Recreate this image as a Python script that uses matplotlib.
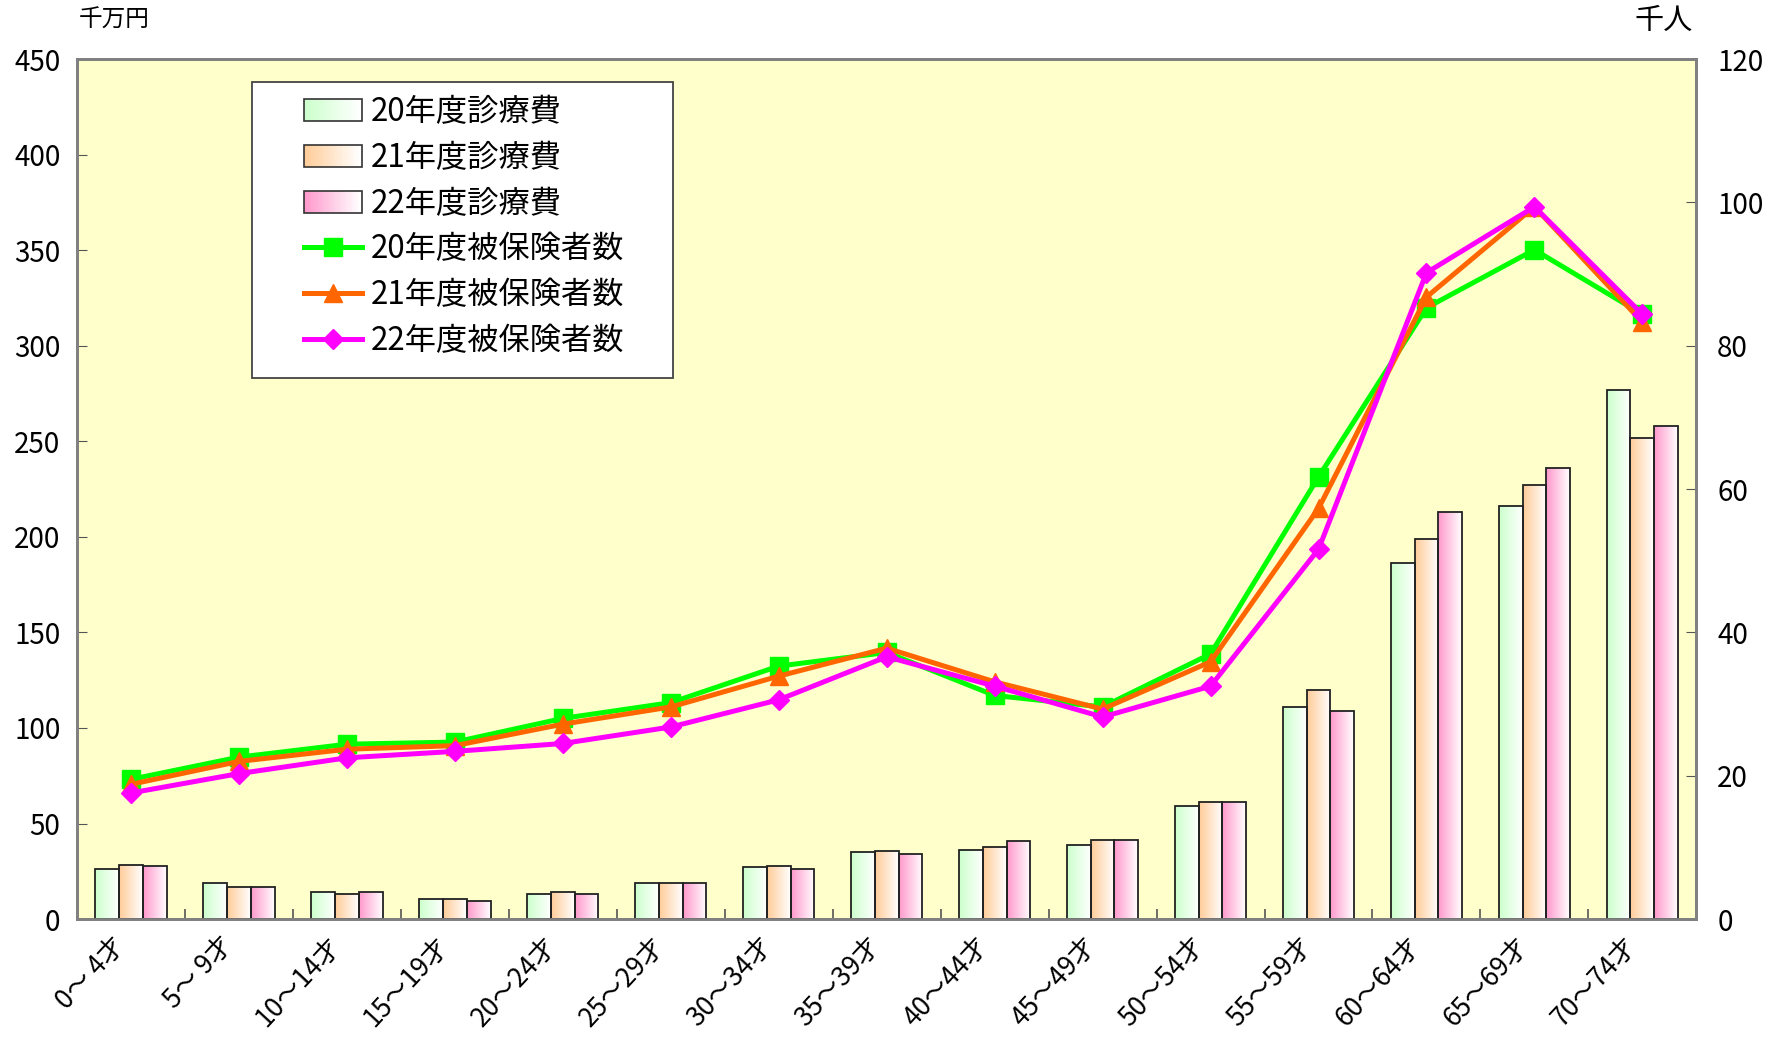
import numpy as np
import matplotlib
matplotlib.use("Agg")
import matplotlib.pyplot as plt
import matplotlib.transforms as mtransforms
from matplotlib.colors import LinearSegmentedColormap
from matplotlib.legend_handler import HandlerBase
from matplotlib.patches import Rectangle

plt.rcParams["font.family"] = ["Noto Sans CJK JP", "DejaVu Sans"]

age_groups = ["0～ 4才", "5～ 9才", "10～14才", "15～19才", "20～24才", "25～29才",
              "30～34才", "35～39才", "40～44才", "45～49才", "50～54才", "55～59才",
              "60～64才", "65～69才", "70～74才"]

# 診療費 (千万円)
cost_h20 = [26, 19, 14, 10.7, 13, 19, 27, 35, 36, 39, 59, 111, 186.5, 216, 277]
cost_h21 = [28.5, 17, 13, 10.7, 14, 19, 28, 35.5, 37.5, 41.5, 61, 120, 199, 227, 252]
cost_h22 = [28, 17, 14, 9.5, 13, 19, 26, 34, 41, 41.5, 61, 109, 213, 236, 258]

# 被保険者数 (千人)
ins_h20 = [19.5, 22.6, 24.4, 24.7, 28.0, 30.2, 35.3, 37.2, 31.2, 29.6, 37.0, 61.7, 85.3, 93.4, 84.4]
ins_h21 = [18.8, 22.0, 23.7, 24.2, 27.2, 29.6, 33.9, 37.8, 33.1, 29.3, 35.9, 57.3, 86.8, 99.4, 83.3]
ins_h22 = [17.6, 20.3, 22.5, 23.4, 24.5, 26.8, 30.6, 36.6, 32.5, 28.2, 32.5, 51.6, 90.2, 99.4, 84.4]

cost_labels = ["20年度診療費", "21年度診療費", "22年度診療費"]
ins_labels = ["20年度被保険者数", "21年度被保険者数", "22年度被保険者数"]
bar_colors = ["#CCFFCC", "#FFCC99", "#FF99CC"]
line_colors = ["#00FF00", "#FF6600", "#FF00FF"]
line_markers = ["s", "^", "D"]


def gradient_cmap(c):
    return LinearSegmentedColormap.from_list("g", [c, "#FFFFFF"])


class GradientHandler(HandlerBase):
    def __init__(self, color):
        super().__init__()
        self.color = color

    def create_artists(self, legend, orig_handle, xdescent, ydescent, width, height, fontsize, trans):
        cmap = gradient_cmap(self.color)
        n = 24
        arts = []
        for k in range(n):
            r = Rectangle((-xdescent + width * k / n, -ydescent), width / n + 0.3, height,
                          facecolor=cmap(k / (n - 1)), edgecolor="none", transform=trans)
            arts.append(r)
        arts.append(Rectangle((-xdescent, -ydescent), width, height, facecolor="none",
                              edgecolor="#333333", lw=1.2, transform=trans))
        return arts


fig = plt.figure(figsize=(17.8, 10.38), dpi=100)
ax = fig.add_axes([0.0433, 0.1146, 0.9097, 0.8284])
ax.set_facecolor("#FFFFCC")
ax2 = ax.twinx()

x = np.arange(len(age_groups))
w = 0.22
grad = np.linspace(0, 1, 64).reshape(1, -1)
bar_handles = []
for j, (vals, col) in enumerate(zip([cost_h20, cost_h21, cost_h22], bar_colors)):
    bars = ax.bar(x + (j - 1) * w, vals, width=w, facecolor="none", edgecolor="#222222",
                  linewidth=1.3, zorder=3)
    cmap = gradient_cmap(col)
    for b in bars:
        bx, by = b.get_x(), b.get_y()
        bw, bh = b.get_width(), b.get_height()
        im = ax.imshow(grad, cmap=cmap, extent=[bx, bx + bw, by, by + bh], aspect="auto",
                       interpolation="bicubic", zorder=2)
        im.set_clip_path(b)
    bar_handles.append(bars)

line_handles = []
for vals, col, mk in zip([ins_h20, ins_h21, ins_h22], line_colors, line_markers):
    ms = 13 if mk in ("s", "^") else 10.5
    ln, = ax2.plot(x, vals, color=col, lw=3.6, marker=mk, markersize=ms, zorder=4)
    line_handles.append(ln)

ax.set_xlim(-0.5, len(age_groups) - 0.5)
ax.set_ylim(0, 450)
ax2.set_ylim(0, 120)
ax.set_yticks(np.arange(0, 451, 50))
ax2.set_yticks(np.arange(0, 121, 20))
ax.set_xticks(x)
ax.set_xticklabels(age_groups, rotation=47, ha="right", va="top", rotation_mode="anchor")
ax.tick_params(axis="x", length=0, labelsize=19, pad=9)
shift = mtransforms.ScaledTranslation(-0.2, 0, fig.dpi_scale_trans)
for lbl in ax.get_xticklabels():
    lbl.set_transform(lbl.get_transform() + shift)
ax.set_xticks(np.arange(0.5, len(age_groups) - 0.5, 1), minor=True)
ax.tick_params(axis="x", which="minor", direction="in", length=7, width=1.2, color="#555555")
ax.tick_params(axis="y", direction="in", length=7, labelsize=20, pad=12, color="#555555")
ax2.tick_params(axis="y", direction="in", length=7, labelsize=20, pad=15, color="#555555")

for a in (ax, ax2):
    for s in a.spines.values():
        s.set_color("#808080")
        s.set_linewidth(2)

fig.text(0.044, 0.980, "千万円", fontsize=17, ha="left", va="center")
fig.text(0.951, 0.980, "千人", fontsize=21, ha="right", va="center")

# legend frame (drawn separately to get the wide side margins)
frame = Rectangle((0.108, 0.629), 0.26, 0.344, transform=ax2.transAxes, facecolor="white",
                  edgecolor="#444444", lw=1.3, zorder=9)
ax2.add_patch(frame)

handles = list(bar_handles) + line_handles
labels = cost_labels + ins_labels
hmap = {bar_handles[i]: GradientHandler(bar_colors[i]) for i in range(3)}
leg = ax2.legend(handles, labels, handler_map=hmap, loc="upper left",
                 bbox_to_anchor=(0.140, 0.957), fontsize=22.5, frameon=False,
                 handlelength=1.85, handleheight=0.7, labelspacing=0.44, borderpad=0,
                 borderaxespad=0, handletextpad=0.3)
leg.set_zorder(10)

fig.savefig("out.png", dpi=100)
